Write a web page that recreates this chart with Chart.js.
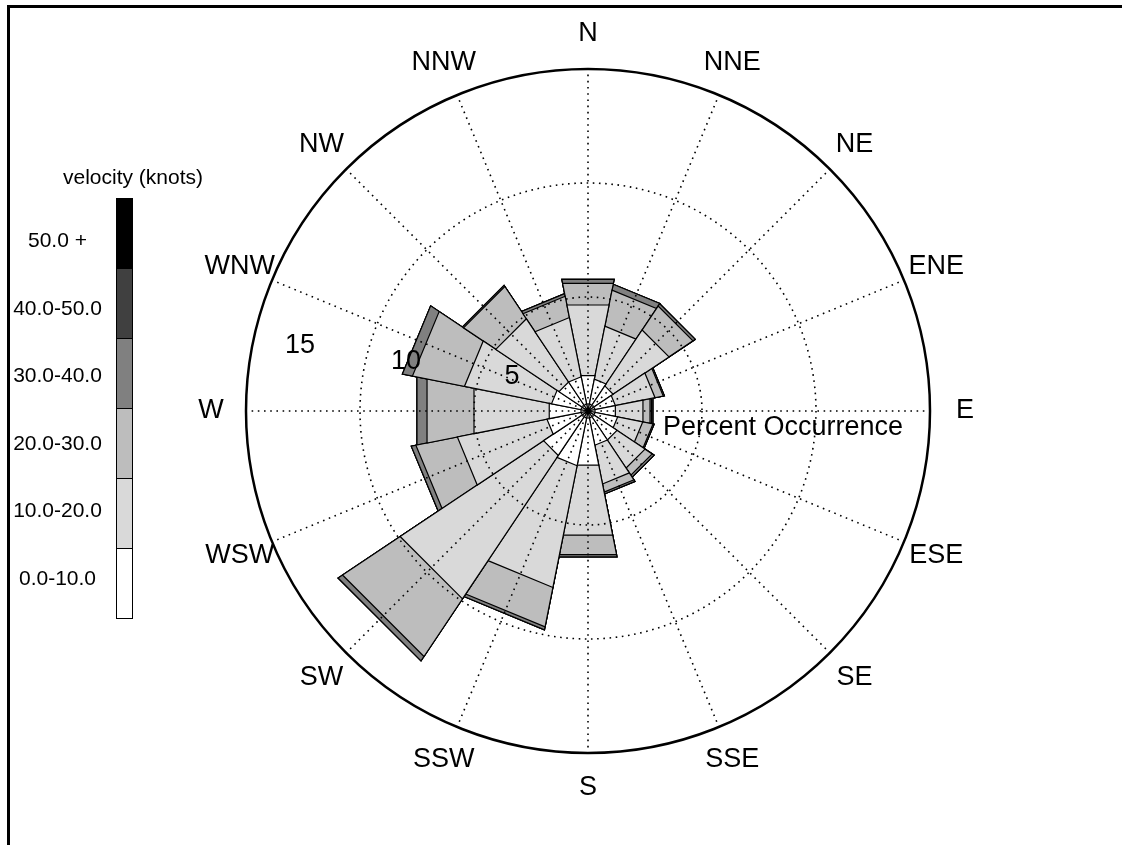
<!DOCTYPE html>
<html>
<head>
<meta charset="utf-8">
<title>Wind rose</title>
<script src="https://cdn.jsdelivr.net/npm/chart.js@4.4.1/dist/chart.umd.min.js"></script>
<style>
  html, body { margin: 0; padding: 0; background: #fff; }
  #wrap { position: relative; width: 1122px; height: 845px; overflow: hidden;
          font-family: "Liberation Sans", Arial, sans-serif; color: #000; }
  #frame { position: absolute; left: 7px; top: 5px; width: 1300px; height: 1000px;
           border-left: 3px solid #000; border-top: 3px solid #000; }
  #rose { position: absolute; left: 0; top: 0; }
  .legend-title { position: absolute; left: 33px; width: 200px; top: 166px;
                  text-align: center; font-size: 21px; line-height: 22px; white-space: nowrap; }
  .legend-swatch { position: absolute; left: 116px; width: 17px; height: 71px;
                   box-sizing: border-box; border: 1px solid #000; }
  .legend-label { position: absolute; left: 0; width: 115px; text-align: center;
                  font-size: 21px; line-height: 22px; white-space: nowrap; }
</style>
</head>
<body>
<div id="wrap">
  <div id="frame"></div>
  <canvas id="rose" width="1122" height="845"></canvas>
  <div id="legend"></div>
</div>
<script>
// Compass sectors, clockwise from north
const directions = ['N', 'NNE', 'NE', 'ENE', 'E', 'ESE', 'SE', 'SSE',
                    'S', 'SSW', 'SW', 'WSW', 'W', 'WNW', 'NW', 'NNW'];

// Speed classes (knots) and their fills
const speedBins = ['0.0-10.0', '10.0-20.0', '20.0-30.0', '30.0-40.0', '40.0-50.0', '50.0 +'];
const binColors = ['#ffffff', '#d9d9d9', '#bdbdbd', '#808080', '#404040', '#000000'];

// Percent occurrence per sector for each speed class
const pct0to10  = [1.55, 1.40, 1.30, 1.20, 1.20, 1.30, 1.50, 1.50, 2.37, 2.40, 2.30, 1.80, 1.70, 1.60, 1.50, 1.50];
const pct10to20 = [3.10, 2.32, 2.89, 1.74, 1.21, 1.10, 1.45, 1.70, 3.07, 5.34, 7.42, 3.93, 3.30, 3.82, 3.27, 2.60];
const pct20to30 = [0.95, 1.58, 1.24, 0.36, 0.31, 0.45, 0.37, 0.36, 0.86, 1.73, 2.98, 1.82, 2.06, 2.28, 1.67, 0.93];
const pct30to40 = [0.17, 0.26, 0.12, 0.05, 0.07, 0.05, 0.10, 0.08, 0.10, 0.13, 0.23, 0.20, 0.44, 0.44, 0.06, 0.12];
const pct40to50 = [0, 0, 0, 0, 0.06, 0, 0, 0, 0, 0, 0, 0, 0, 0, 0, 0];
const pct50plus = [0, 0, 0, 0, 0, 0, 0, 0, 0, 0, 0, 0, 0, 0, 0, 0];

// Radial axis rings (percent)
const ringTicks = [5, 10, 15];
const axisTitle = 'Percent Occurrence';
const legendTitle = 'velocity (knots)';

const bands = [pct0to10, pct10to20, pct20to30, pct30to40, pct40to50, pct50plus];

// Running totals so each band's outer edge sits on top of the previous ones
const cumulative = [];
bands.forEach((band, k) => {
  cumulative.push(band.map((v, i) => v + (k ? cumulative[k - 1][i] : 0)));
});

// Sector drawn with a straight outer edge; the chord's midpoint sits at the value radius
class ChordWedge extends Chart.ArcElement {
  static id = 'chordWedge';
  draw(ctx) {
    const { x, y, startAngle, endAngle, outerRadius } = this;
    const o = this.options;
    if (!(outerRadius > 0)) return;
    const rv = outerRadius / Math.cos((endAngle - startAngle) / 2);
    ctx.save();
    ctx.beginPath();
    ctx.moveTo(x, y);
    ctx.lineTo(x + rv * Math.cos(startAngle), y + rv * Math.sin(startAngle));
    ctx.lineTo(x + rv * Math.cos(endAngle), y + rv * Math.sin(endAngle));
    ctx.closePath();
    ctx.fillStyle = o.backgroundColor;
    ctx.fill();
    if (o.borderWidth) {
      ctx.lineJoin = 'miter';
      ctx.lineWidth = o.borderWidth;
      ctx.strokeStyle = o.borderColor;
      ctx.stroke();
    }
    ctx.restore();
  }
}

class WindRoseController extends Chart.PolarAreaController {
  static id = 'windRose';
  static defaults = { dataElementType: 'chordWedge' };
}

Chart.register(ChordWedge, WindRoseController);

// Overlay: dotted spokes and rings over the bars, compass and ring labels
const roseOverlay = {
  id: 'roseOverlay',
  afterDatasetsDraw(chart) {
    const s = chart.scales.r;
    const ctx = chart.ctx;
    const cx = s.xCenter, cy = s.yCenter;
    const half = Math.PI / directions.length;
    const rMax = s.getDistanceFromCenterForValue(s.max);
    ctx.save();
    ctx.strokeStyle = '#000';
    ctx.lineWidth = 1.6;
    ctx.setLineDash([1.6, 4.6]);
    directions.forEach((d, i) => {
      const p = s.getPointPosition(i, rMax, half);
      ctx.beginPath();
      ctx.moveTo(cx, cy);
      ctx.lineTo(p.x, p.y);
      ctx.stroke();
    });
    ringTicks.forEach(v => {
      if (v >= s.max) return;
      ctx.beginPath();
      ctx.arc(cx, cy, s.getDistanceFromCenterForValue(v), 0, Math.PI * 2);
      ctx.stroke();
    });
    ctx.setLineDash([]);
    ctx.lineWidth = 2.5;
    ctx.beginPath();
    ctx.arc(cx, cy, rMax, 0, Math.PI * 2);
    ctx.stroke();

    ctx.fillStyle = '#000';
    ctx.font = '27px "Liberation Sans", Arial, sans-serif';
    ctx.textAlign = 'center';
    ctx.textBaseline = 'middle';
    directions.forEach((d, i) => {
      const p = s.getPointPosition(i, rMax + 35, half);
      ctx.fillText(d, p.x, p.y);
    });
    ringTicks.forEach(v => {
      const r = s.getDistanceFromCenterForValue(v);
      ctx.fillText(String(v), cx + 30 - 0.93 * r, cy - 18 - 0.14 * r);
    });
    ctx.textAlign = 'left';
    ctx.textBaseline = 'alphabetic';
    ctx.fillText(axisTitle, cx + 75, cy + 24);
    ctx.restore();
  }
};

const datasets = cumulative.map((data, k) => ({
  label: speedBins[k],
  data,
  backgroundColor: binColors[k],
  borderColor: '#000',
  borderWidth: 1.2
}));

new Chart(document.getElementById('rose'), {
  type: 'windRose',
  data: { labels: directions, datasets },
  options: {
    responsive: false,
    animation: false,
    events: [],
    devicePixelRatio: 1,
    layout: { padding: { left: 246, right: 192, top: 69, bottom: 92 } },
    plugins: { legend: { display: false }, tooltip: { enabled: false } },
    scales: {
      r: {
        min: 0,
        max: ringTicks[ringTicks.length - 1],
        startAngle: -180 / directions.length,
        ticks: { display: false, stepSize: 5 },
        grid: { display: false },
        angleLines: { display: false },
        pointLabels: { display: false }
      }
    }
  },
  plugins: [roseOverlay]
});

// Colour key, highest class on top
const legend = document.getElementById('legend');
const title = document.createElement('div');
title.className = 'legend-title';
title.textContent = legendTitle;
legend.appendChild(title);
speedBins.slice().reverse().forEach((name, k) => {
  const sw = document.createElement('div');
  sw.className = 'legend-swatch';
  sw.style.top = (198 + k * 70) + 'px';
  sw.style.background = binColors[speedBins.length - 1 - k];
  legend.appendChild(sw);
  const lab = document.createElement('div');
  lab.className = 'legend-label';
  lab.style.top = Math.round(240 + k * 67.6 - 11) + 'px';
  lab.textContent = name;
  legend.appendChild(lab);
});
</script>
</body>
</html>
